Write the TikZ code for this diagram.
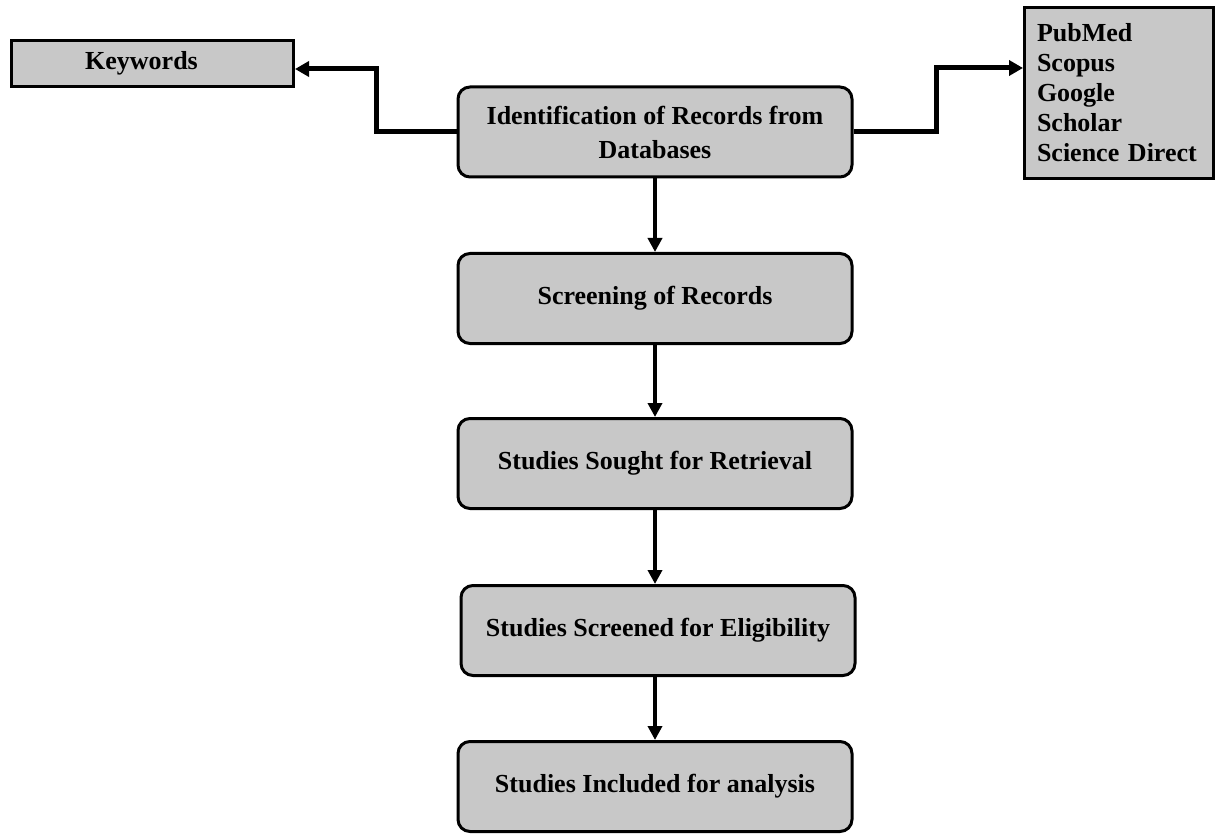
\documentclass[tikz,border=0pt]{standalone}
\usepackage{fontspec}
\setmainfont{Liberation Serif}
\usetikzlibrary{arrows.meta,calc}
\definecolor{boxgray}{RGB}{200,200,200}
\begin{document}
\begin{tikzpicture}[x=1pt,y=-1pt,
  stage/.style={draw, fill=boxgray, line width=3pt, rounded corners=12pt,
    minimum width=394pt, minimum height=90pt, align=center,
    font=\fontsize{26}{34}\selectfont\bfseries, inner sep=0pt},
  sidebox/.style={draw, fill=boxgray, line width=3pt, inner sep=0pt,
    font=\fontsize{26}{30}\selectfont\bfseries},
  flow/.style={line width=4pt, -{Triangle[length=14pt,width=14pt]}},
  branch/.style={line width=5pt, -{Triangle[length=14pt,width=15pt]}}]
\useasboundingbox (0,0) rectangle (1217,834);

% main stages
\node[stage] (ident)  at (655,132)   {Identification of Records from\\Databases};
\node[stage] (screen) at (655,298.5) {Screening of Records};
\node[stage] (sought) at (655,463.5) {Studies Sought for Retrieval};
\node[stage] (elig)   at (658,630.5) {Studies Screened for Eligibility};
\node[stage] (incl)   at (655,786.5) {Studies Included for analysis};

% side boxes
\node[sidebox, minimum width=282pt, minimum height=46pt] (kw) at (152.5,63.5)
  {Keywords\hspace*{22pt}};
\node[sidebox, minimum width=189pt, minimum height=171pt, text width=164pt,
      align=left, inner xsep=12.5pt] (db) at (1119,93)
  {PubMed\\Scopus\\Google\\Scholar\\Science Direct};

% vertical flow
\draw[flow] (ident.south) -- (screen.north);
\draw[flow] (screen.south) -- (sought.north);
\draw[flow] (sought.south) -- (elig.north -| sought.south);
\draw[flow] (elig.south -| incl.north) -- (incl.north);

% branches to the side boxes
\draw[branch] (ident.west) -- ++(-80,0) |- ($(kw.east)+(0,5.5)$);
\draw[branch] (ident.east) -- ++(83,0) |- ($(db.west)+(0,-25)$);
\end{tikzpicture}
\end{document}
